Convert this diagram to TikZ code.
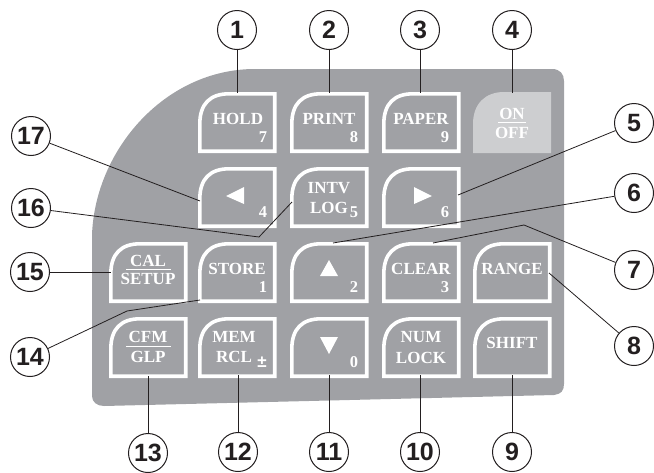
\documentclass[tikz,border=0pt]{standalone}
\usepackage{fontspec}
\setmainfont{Liberation Serif}
\newfontfamily\numfont{Liberation Sans}
\definecolor{panel}{RGB}{160,161,165}
\definecolor{onkey}{RGB}{205,206,208}
\definecolor{ink}{RGB}{35,31,32}
\tikzset{
  x=1pt,y=-1pt,
  callout/.style={circle,draw=ink,line width=1pt,fill=white,minimum size=39pt,inner sep=0pt,font=\numfont\bfseries\fontsize{25}{25}\selectfont,text=ink},
  lead/.style={draw=ink,line width=0.8pt},
  keytxt/.style={text=white,inner sep=0pt,font=\bfseries\fontsize{17}{17}\selectfont},
  keynum/.style={text=white,inner sep=0pt,font=\bfseries\fontsize{16.5}{16.5}\selectfont},
  keysign/.style={text=white,inner sep=0pt,font=\numfont\bfseries\fontsize{17}{17}\selectfont},
  bar/.style={white,line width=1pt}
}
\newcommand{\keyshape}[3]{% x, y, style
  \draw[#3] (#1+1.8,#2+59.2) -- (#1+1.8,#2+32) .. controls (#1+1.8,#2+12) and (#1+12,#2+1.8) .. (#1+31,#2+1.8) -- (#1+76.7,#2+1.8) -- (#1+76.7,#2+59.2) -- cycle;
}
\begin{document}
\begin{tikzpicture}
\useasboundingbox (0,0) rectangle (654,472);
\fill[panel] (92,235) .. controls (95,150) and (165,69) .. (255,69) -- (552,69)
  .. controls (560,69) and (564,74) .. (564,81) -- (564,384)
  .. controls (564,391) and (561,394) .. (554,395) -- (104,406)
  .. controls (97,406) and (92,402) .. (92,396) -- cycle;
\foreach \x/\y in {198/92,290/92,382/92,
                   198/167,290/167,382/167,
                   109/242,198/242,290/242,382/242,473/242,
                   109/317,198/317,290/317,382/317,473/317}
  {\keyshape{\x}{\y}{draw=white,line width=3.6pt}}
\fill[onkey] (473,153) -- (473,124) .. controls (473,104) and (485,92) .. (504,92) -- (551,92) -- (551,153) -- cycle;
% key labels
\node[keytxt] (hold) at (238,119) {HOLD};
\node[keynum] (n7) at (263,137) {7};
\node[keytxt] (print) at (329,119) {PRINT};
\node[keynum] (n8) at (354,137) {8};
\node[keytxt] (paper) at (421,119) {PAPER};
\node[keynum] (n9) at (445,137) {9};
\node[keytxt] (on) at (512,114) {ON};
\node[keytxt] (off) at (512,133) {OFF};
\draw[bar] (498,122) -- (526,122);
\fill[white] (226,196) -- (244,187) -- (244,204) -- cycle;
\node[keynum] (n4) at (263,212) {4};
\node[keytxt] (intv) at (329,188) {INTV};
\node[keytxt] (log) at (329,208) {LOG};
\node[keynum] (n5) at (354,212) {5};
\fill[white] (432,196) -- (414,187) -- (414,204) -- cycle;
\node[keynum] (n6) at (445,212) {6};
\node[keytxt] (cal) at (148,261) {CAL};
\node[keytxt] (setup) at (148,279) {SETUP};
\draw[bar] (126,269) -- (171,269);
\node[keytxt] (store) at (237,269) {STORE};
\node[keynum] (n1) at (263,287) {1};
\fill[white] (329,260) -- (320,276) -- (338,276) -- cycle;
\node[keynum] (n2) at (354,287) {2};
\node[keytxt] (clear) at (421,269) {CLEAR};
\node[keynum] (n3) at (445,287) {3};
\node[keytxt] (range) at (512,269) {RANGE};
\node[keytxt] (cfm) at (148,337) {CFM};
\node[keytxt] (glp) at (148,357) {GLP};
\draw[bar] (126,346) -- (171,346);
\node[keytxt] (mem) at (234,337) {MEM};
\node[keytxt] (rcl) at (234,357) {RCL};
\node[keysign] (pm) at (262,362) {±};
\fill[white] (329,354) -- (320,337) -- (338,337) -- cycle;
\node[keynum] (n0) at (354,362) {0};
\node[keytxt] (num) at (421,337) {NUM};
\node[keytxt] (lock) at (421,358) {LOCK};
\node[keytxt] (shift) at (512,343) {SHIFT};
% callouts
\node[callout] (c1) at (237,30) {1};
\node[callout] (c2) at (329,30) {2};
\node[callout] (c3) at (420,30) {3};
\node[callout] (c4) at (512,30) {4};
\node[callout] (c5) at (634,123) {5};
\node[callout] (c6) at (634,193) {6};
\node[callout] (c7) at (634,270) {7};
\node[callout] (c8) at (634,346) {8};
\node[callout] (c9) at (512,452) {9};
\node[callout] (c10) at (420,452) {10};
\node[callout] (c11) at (329,452) {11};
\node[callout] (c12) at (238,452) {12};
\node[callout] (c13) at (148,453) {13};
\node[callout] (c14) at (30,357) {14};
\node[callout] (c15) at (30,272) {15};
\node[callout] (c16) at (31,208) {16};
\node[callout] (c17) at (31,136) {17};
% free ends
\coordinate (e1) at (237,93);
\coordinate (e2) at (329,93);
\coordinate (e3) at (420,93);
\coordinate (e4) at (512,93);
\coordinate (e5) at (458,195);
\coordinate (e6) at (333,243);
\coordinate (e7a) at (433,243);
\coordinate (e7b) at (524,225);
\coordinate (e8) at (549,273);
\coordinate (e9) at (512,375);
\coordinate (e10) at (420,375);
\coordinate (e11) at (329,375);
\coordinate (e12) at (238,375);
\coordinate (e13) at (148,376);
\coordinate (e14a) at (200,300);
\coordinate (e14b) at (127,311);
\coordinate (e15) at (111,272);
\coordinate (e16a) at (292,202);
\coordinate (e16b) at (259,237);
\coordinate (e17) at (200,201);
\draw[lead] (c1) -- (e1);
\draw[lead] (c2) -- (e2);
\draw[lead] (c3) -- (e3);
\draw[lead] (c4) -- (e4);
\draw[lead] (c5) -- (e5);
\draw[lead] (c6) -- (e6);
\draw[lead] (c7) -- (e7b) -- (e7a);
\draw[lead] (c8) -- (e8);
\draw[lead] (c9) -- (e9);
\draw[lead] (c10) -- (e10);
\draw[lead] (c11) -- (e11);
\draw[lead] (c12) -- (e12);
\draw[lead] (c13) -- (e13);
\draw[lead] (c14) -- (e14b) -- (e14a);
\draw[lead] (c15) -- (e15);
\draw[lead] (c16) -- (e16b) -- (e16a);
\draw[lead] (c17) -- (e17);
\end{tikzpicture}
\end{document}
